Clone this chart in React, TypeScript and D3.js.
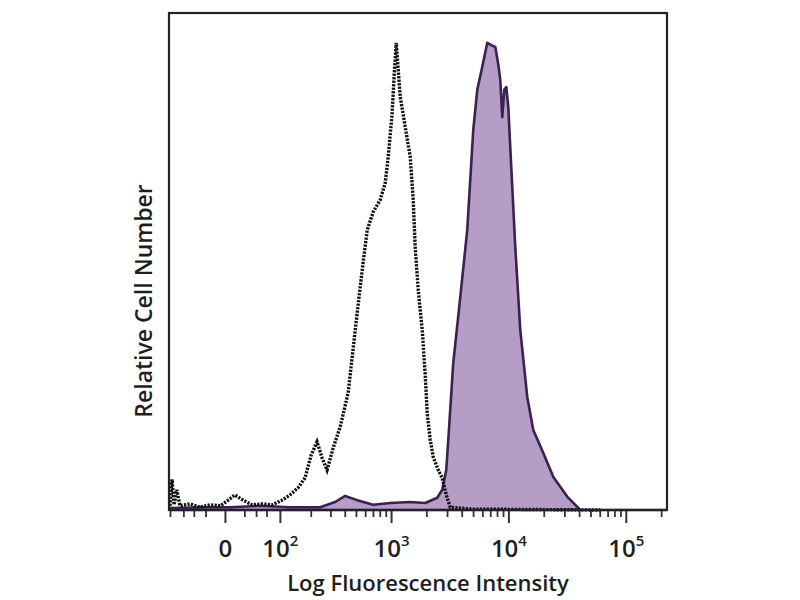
import { useEffect, useRef } from 'react'
import * as d3 from 'd3'

// isotype control, dotted trace
const controlIntensity = [
  -100, -95, -90, -84, -77, -57, -39, -23, -7, 5, 15, 28, 43, 61, 82, 106, 127, 152, 177, 202,
  228, 253, 280, 317, 365, 428, 512, 566, 625, 703, 808, 891, 945, 1022, 1063, 1106, 1151, 1197,
  1321, 1457, 1545, 1606, 1704, 1844, 1956, 2034, 2158, 2288, 2524, 2731, 2954, 3196, 4730, 60600,
]
const controlCount = [
  0.9, 6.5, 1.1, 4.3, 0.9, 1.3, 0.6, 1.1, 0.9, 2.1, 3.2, 2.1, 1.1, 1.3, 1.1, 2.1, 3.2, 4.7, 6.8, 11.7,
  14.5, 11.1, 8.5, 13.2, 17.7, 24.9, 41.9, 51.1, 59.6, 63.4, 66.0, 69.6, 75.1, 84.5, 92.6, 99.4, 93.6, 87.9,
  81.5, 75.1, 66.0, 56.0, 46.8, 38.3, 28.7, 20.6, 14.9, 11.3, 8.5, 6.8, 3.2, 0.6, 0.2, 0,
]

// stained sample, filled trace
const stainedIntensity = [
  -100, -39, 8, 57, 127, 243, 330, 403, 512, 703, 983, 1457, 1956, 2475, 2731, 2954, 3074, 3390,
  3890, 4460, 4730, 5020, 5430, 5990, 6610, 7150, 7740, 8210, 8530, 8870, 9220, 9590, 9980, 10370,
  11440, 12620, 14480, 16290, 19840, 24140, 31790, 41000, 220000,
]
const stainedCount = [
  0.4, 0.6, 0.6, 0.9, 0.6, 0.6, 1.7, 3.0, 2.1, 1.1, 1.5, 1.7, 1.5, 2.6, 4.3, 8.5, 14.9, 31.3,
  45.3, 59.6, 70.2, 80.9, 89.4, 94.3, 99.4, 98.9, 98.5, 94.7, 91.5, 83.6, 89.4, 90.0, 85.7, 77.2,
  56.0, 38.3, 24.0, 17.0, 12.1, 7.0, 2.8, 0, 0,
]

const majorTicks = [0, 100, 1000, 10000, 100000]
const majorExponents = ['', '2', '3', '4', '5']
const minorTicks = [
  -100, -70, -50, -30, 30, 50, 70,
  200, 300, 400, 500, 600, 700, 800, 900,
  2000, 3000, 4000, 5000, 6000, 7000, 8000, 9000,
  20000, 30000, 40000, 50000, 60000, 70000, 80000, 90000, 200000,
]

const COFACTOR = 77
const tf = (v: number) => Math.asinh(v / COFACTOR)
const FONT = '"Open Sans", sans-serif'

export default function App() {
  const svgRef = useRef<SVGSVGElement>(null)

  useEffect(() => {
    const svg = d3.select(svgRef.current)
    svg.selectAll('*').remove()

    const left = 170, right = 666, top = 13, bottom = 510

    const xScale = d3.scaleLinear().domain([tf(-100), tf(220000)]).range([left, right])
    const yScale = d3.scaleLinear().domain([0, 100]).range([bottom, 40])

    const stained = stainedIntensity.map((v, i) => ({ v, c: stainedCount[i] }))
    const control = controlIntensity.map((v, i) => ({ v, c: controlCount[i] }))

    const area = d3.area<{ v: number; c: number }>()
      .x((d) => xScale(tf(d.v)))
      .y0(yScale(0))
      .y1((d) => yScale(d.c))

    const line = d3.line<{ v: number; c: number }>()
      .x((d) => xScale(tf(d.v)))
      .y((d) => yScale(d.c))

    svg.append('path')
      .datum(stained)
      .attr('fill', '#b69dc6')
      .attr('stroke', '#3a2150')
      .attr('stroke-width', 2.6)
      .attr('stroke-linejoin', 'round')
      .attr('d', area)

    svg.append('path')
      .datum(control)
      .attr('fill', 'none')
      .attr('stroke', '#111')
      .attr('stroke-width', 3.4)
      .attr('stroke-dasharray', '2.2,1.3')
      .attr('d', line)

    // minor ticks
    svg.append('g')
      .attr('transform', `translate(0,${bottom})`)
      .call(d3.axisBottom(xScale).tickValues(minorTicks.map(tf)).tickSize(7).tickFormat(() => ''))
      .call((g) => g.select('.domain').remove())
      .call((g) => g.selectAll('line').attr('stroke', '#333').attr('stroke-width', 1.8))

    // major ticks
    const major = svg.append('g')
      .attr('transform', `translate(0,${bottom})`)
      .call(d3.axisBottom(xScale).tickValues(majorTicks.map(tf)).tickSize(13).tickFormat(() => ''))
      .call((g) => g.select('.domain').remove())
      .call((g) => g.selectAll('line').attr('stroke', '#333').attr('stroke-width', 2))

    major.selectAll('.tick text').remove()
    major.selectAll('.tick').each(function (_d, i) {
      const t = d3.select(this).append('text')
        .attr('y', 47)
        .attr('text-anchor', 'middle')
        .attr('fill', '#1e1e1e')
        .attr('font-family', FONT)
        .attr('font-weight', 600)
        .attr('font-size', 24)
      if (majorExponents[i] === '') {
        t.text('0')
      } else {
        t.append('tspan').text('10')
        t.append('tspan').attr('dy', -11).attr('font-size', 15).text(majorExponents[i])
      }
    })

    // frame
    svg.append('rect')
      .attr('x', left - 1).attr('y', top)
      .attr('width', right - left + 2).attr('height', bottom - top)
      .attr('fill', 'none')
      .attr('stroke', '#222')
      .attr('stroke-width', 2.2)

    svg.append('text')
      .attr('x', 428).attr('y', 591)
      .attr('text-anchor', 'middle')
      .attr('fill', '#1e1e1e')
      .attr('font-family', FONT)
      .attr('font-weight', 600)
      .attr('font-size', 22)
      .text('Log Fluorescence Intensity')

    svg.append('text')
      .attr('transform', 'translate(152,301) rotate(-90)')
      .attr('text-anchor', 'middle')
      .attr('fill', '#1e1e1e')
      .attr('font-family', FONT)
      .attr('font-weight', 600)
      .attr('font-size', 23)
      .text('Relative Cell Number')
  }, [])

  return (
    <svg
      ref={svgRef}
      width={800}
      height={600}
      style={{ position: 'fixed', left: 0, top: 0, background: '#fff' }}
    />
  )
}
